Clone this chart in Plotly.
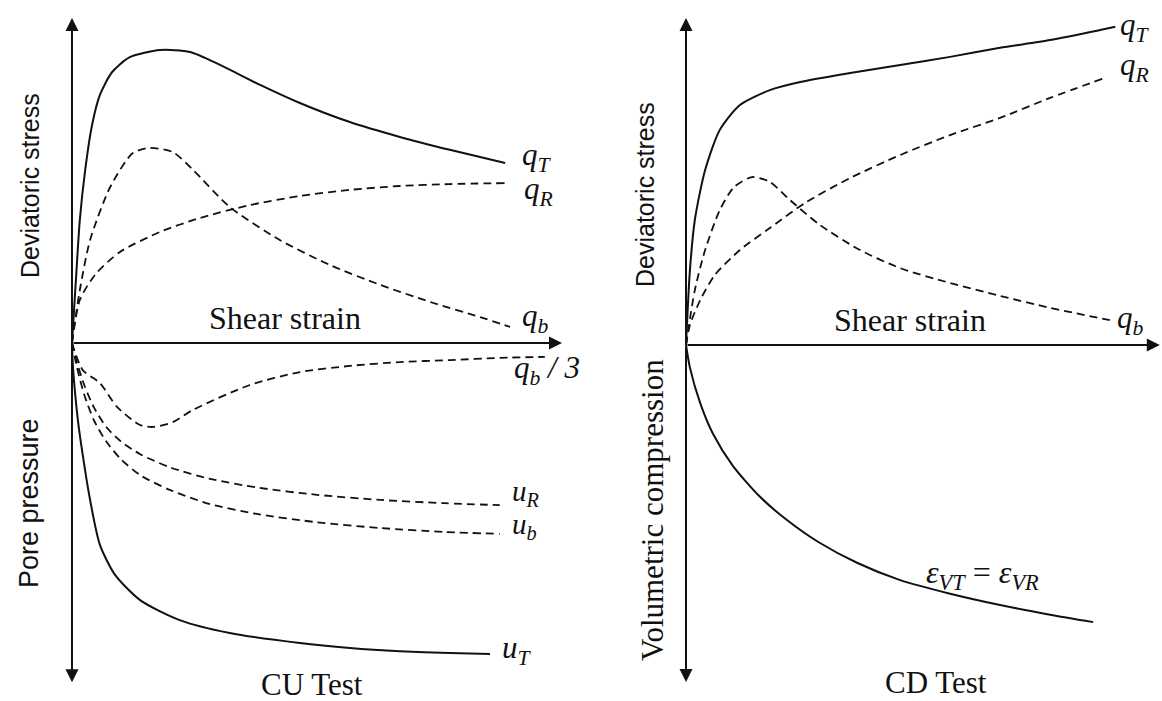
import plotly.graph_objects as go

# ---- CU test (left panel): shear strain vs. deviatoric stress / pore pressure ----
cu_qT_strain = [0, 0.08, 0.16, 0.27, 0.41, 0.57, 0.82, 1.18, 1.80, 2.41, 3.02, 3.84, 4.65, 5.67, 6.69, 7.71, 8.84]
cu_qT = [0.0, 1.95, 3.81, 5.36, 6.75, 7.68, 8.39, 8.85, 9.07, 9.01, 8.61, 7.99, 7.43, 6.84, 6.38, 5.98, 5.57]

cu_qR_strain = [0, 0.16, 0.47, 0.98, 1.80, 2.61, 3.63, 4.65, 5.67, 6.69, 7.71, 8.84]
cu_qR = [0.0, 1.33, 2.11, 2.82, 3.44, 3.87, 4.27, 4.55, 4.74, 4.86, 4.92, 4.95]

cu_qb_strain = [0, 0.16, 0.37, 0.78, 1.24, 1.59, 2.06, 2.47, 3.22, 4.24, 5.27, 6.29, 7.31, 8.33, 8.94]
cu_qb = [0.0, 1.64, 3.19, 4.83, 5.88, 6.04, 5.91, 5.36, 4.21, 3.19, 2.41, 1.80, 1.27, 0.80, 0.50]

cu_qb3_strain = [0, 0.22, 0.57, 0.92, 1.39, 1.65, 2.06, 2.47, 3.63, 4.65, 5.67, 6.69, 7.71, 8.73, 9.65]
cu_qb3 = [0.0, -0.84, -1.24, -1.98, -2.54, -2.60, -2.45, -2.07, -1.30, -0.90, -0.71, -0.59, -0.53, -0.46, -0.43]

cu_uR_strain = [0, 0.10, 0.25, 0.45, 0.70, 1.00, 1.40, 2.00, 2.80, 3.80, 5.00, 6.30, 7.60, 8.73]
cu_uR = [0.0, -0.60, -1.30, -2.00, -2.60, -3.05, -3.45, -3.85, -4.20, -4.48, -4.70, -4.86, -4.96, -5.02]

cu_ub_strain = [0, 0.10, 0.25, 0.45, 0.70, 1.00, 1.40, 2.00, 2.80, 3.80, 5.00, 6.30, 7.60, 8.73]
cu_ub = [0.0, -0.75, -1.60, -2.40, -3.05, -3.60, -4.10, -4.55, -4.98, -5.30, -5.55, -5.73, -5.85, -5.91]

cu_uT_strain = [0, 0.02, 0.12, 0.22, 0.37, 0.57, 0.88, 1.39, 2.20, 3.22, 4.65, 5.67, 6.69, 7.71, 8.53]
cu_uT = [0.0, -0.74, -2.38, -3.47, -4.86, -6.25, -7.18, -7.96, -8.58, -8.98, -9.29, -9.44, -9.54, -9.60, -9.63]

# ---- CD test (right panel): shear strain vs. deviatoric stress / volumetric compression ----
cd_qT_strain = [0, 0.08, 0.18, 0.39, 0.69, 1.10, 1.71, 2.33, 3.35, 4.37, 5.39, 6.41, 7.43, 8.45, 8.76]
cd_qT = [0.0, 2.32, 3.87, 5.42, 6.66, 7.43, 7.89, 8.14, 8.42, 8.67, 8.92, 9.20, 9.44, 9.75, 9.85]

cd_qR_strain = [0, 0.08, 0.29, 0.59, 1.10, 1.71, 2.43, 3.35, 4.37, 5.39, 6.41, 7.43, 8.55]
cd_qR = [0.0, 0.62, 1.39, 2.17, 2.94, 3.62, 4.40, 5.17, 5.88, 6.50, 7.03, 7.65, 8.27]

cd_qb_strain = [0, 0.18, 0.39, 0.69, 0.98, 1.35, 1.71, 2.12, 2.73, 3.55, 4.37, 5.39, 6.41, 7.43, 8.65]
cd_qb = [0.0, 1.70, 2.94, 4.18, 4.89, 5.20, 5.05, 4.49, 3.72, 2.94, 2.38, 1.92, 1.52, 1.15, 0.77]

cd_ev_strain = [0, 0.08, 0.29, 0.55, 0.96, 1.51, 2.06, 2.70, 3.50, 4.37, 5.39, 6.41, 7.43, 8.31]
cd_ev = [0.0, -0.70, -1.80, -2.75, -3.75, -4.70, -5.42, -6.10, -6.75, -7.28, -7.70, -8.05, -8.35, -8.58]

# axis extents (end points of the arrows) for each panel
cu_axis_x_end, cu_axis_y_top, cu_axis_y_bot = 10.0, 10.06, -10.50
cd_axis_x_end, cd_axis_y_top, cd_axis_y_bot = 9.67, 10.12, -10.43

SERIF = "Liberation Serif"
SANS = "Liberation Sans"
INK = "#111111"

fig = go.Figure()


def curve(xs, ys, axis, dashed):
    xa, ya = ("x", "y") if axis == 1 else ("x2", "y2")
    fig.add_trace(go.Scatter(
        x=xs, y=ys, xaxis=xa, yaxis=ya, mode="lines",
        line=dict(color=INK, width=2.0 if not dashed else 1.8,
                  dash="8px,5px" if dashed else "solid",
                  shape="spline", smoothing=0.7),
        hoverinfo="skip", showlegend=False))


curve(cu_qT_strain, cu_qT, 1, False)
curve(cu_qR_strain, cu_qR, 1, True)
curve(cu_qb_strain, cu_qb, 1, True)
curve(cu_qb3_strain, cu_qb3, 1, True)
curve(cu_uR_strain, cu_uR, 1, True)
curve(cu_ub_strain, cu_ub, 1, True)
curve(cu_uT_strain, cu_uT, 1, False)

curve(cd_qT_strain, cd_qT, 2, False)
curve(cd_qR_strain, cd_qR, 2, True)
curve(cd_qb_strain, cd_qb, 2, True)
curve(cd_ev_strain, cd_ev, 2, False)

annotations = []


def arrow(xref, yref, x, y):
    annotations.append(dict(
        xref=xref, yref=yref, axref=xref, ayref=yref,
        x=x, y=y, ax=0, ay=0, text="", showarrow=True,
        arrowhead=2, arrowsize=1.3, arrowwidth=2, arrowcolor=INK))


# axes with arrowheads
arrow("x", "y", cu_axis_x_end, 0)
arrow("x", "y", 0, cu_axis_y_top)
arrow("x", "y", 0, cu_axis_y_bot)
arrow("x2", "y2", cd_axis_x_end, 0)
arrow("x2", "y2", 0, cd_axis_y_top)
arrow("x2", "y2", 0, cd_axis_y_bot)


def label(xref, yref, x, y, text, size=31, font=SERIF, xanchor="left", angle=0):
    annotations.append(dict(
        xref=xref, yref=yref, x=x, y=y, text=text, showarrow=False,
        xanchor=xanchor, yanchor="middle", textangle=angle,
        font=dict(family=font, size=size, color=INK)))


# curve labels, left panel
label("x", "y", 9.14, 5.76, "<i>q</i><sub><i>T</i></sub>")
label("x", "y", 9.18, 4.70, "<i>q</i><sub><i>R</i></sub>")
label("x", "y", 9.14, 0.77, "<i>q</i><sub><i>b</i></sub>")
label("x", "y", 8.98, -0.84, "<i>q</i><sub><i>b</i></sub><i> / 3</i>")
label("x", "y", 8.94, -4.64, "<i>u</i><sub><i>R</i></sub>", size=29)
label("x", "y", 8.94, -5.68, "<i>u</i><sub><i>b</i></sub>", size=29)
label("x", "y", 8.73, -9.50, "<i>u</i><sub><i>T</i></sub>")

# curve labels, right panel
label("x2", "y2", 8.82, 9.85, "<i>q</i><sub><i>T</i></sub>")
label("x2", "y2", 8.82, 8.62, "<i>q</i><sub><i>R</i></sub>")
label("x2", "y2", 8.76, 0.77, "<i>q</i><sub><i>b</i></sub>")
label("x2", "y2", 4.85, -7.12, "<i>ε</i><sub><i>VT</i></sub> = <i>ε</i><sub><i>VR</i></sub>", size=32)

# axis titles
label("x", "y", 4.35, 0.77, "Shear strain", size=32, xanchor="center")
label("x2", "y2", 4.57, 0.77, "Shear strain", size=32, xanchor="center")
label("paper", "paper", 312 / 1162, 1 - 684 / 701, "CU Test", size=31, xanchor="center")
label("paper", "paper", 936 / 1162, 1 - 682 / 701, "CD Test", size=31, xanchor="center")
label("paper", "paper", 30 / 1162, 1 - 186 / 701, "Deviatoric stress", size=25, font=SANS,
      xanchor="center", angle=-90)
label("paper", "paper", 29 / 1162, 1 - 503 / 701, "Pore pressure", size=27, font=SANS,
      xanchor="center", angle=-90)
label("paper", "paper", 645 / 1162, 1 - 195 / 701, "Deviatoric stress", size=25, font=SANS,
      xanchor="center", angle=-90)
label("paper", "paper", 652 / 1162, 1 - 510 / 701, "Volumetric compression", size=31, font=SERIF,
      xanchor="center", angle=-90)

hidden = dict(visible=False, showgrid=False, zeroline=False, fixedrange=True)

fig.update_layout(
    width=1162, height=701,
    margin=dict(l=0, r=0, t=0, b=0),
    paper_bgcolor="white", plot_bgcolor="white",
    xaxis=dict(domain=[0, 0.5], range=[-1.469, 10.388], anchor="y", **hidden),
    yaxis=dict(domain=[0, 1], range=[-11.084, 10.619], anchor="x", **hidden),
    xaxis2=dict(domain=[0.5, 1], range=[-2.143, 9.714], anchor="y2", **hidden),
    yaxis2=dict(domain=[0, 1], range=[-11.022, 10.681], anchor="x2", **hidden),
    annotations=annotations,
    showlegend=False,
)

fig.write_html("out.html")
